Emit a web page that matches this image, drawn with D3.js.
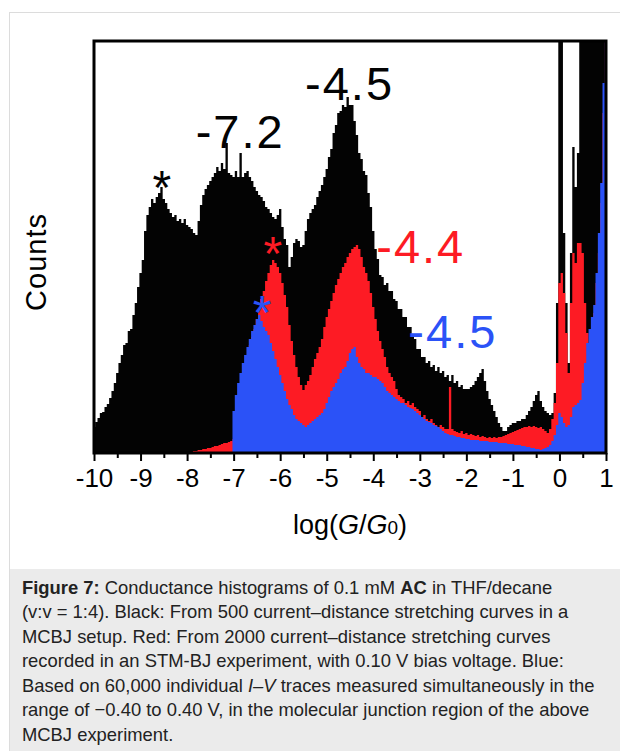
<!DOCTYPE html>
<html><head><meta charset="utf-8">
<script src="https://cdn.jsdelivr.net/npm/d3@7"></script>
<style>
html,body{margin:0;padding:0;background:#fff;}
svg{display:block;font-family:"Liberation Sans",Arial,sans-serif;}
</style></head>
<body>
<svg id="c" width="620" height="751"></svg>
<script>
// bins of log(G/G0), starting at -10, step 0.05 (221 bins up to 1.0)
const binStart = -10, binStep = 0.05;

// Black: MCBJ, 500 curves
const blackCounts = [
  26,31,35,40,41,46,49,55,62,70,80,90,98,108,110,122,124,138,150,166,
  180,193,222,238,246,254,250,256,260,266,254,250,244,240,236,238,232,234,230,234,
  228,226,224,220,218,232,248,258,264,268,272,276,280,286,282,290,284,310,280,278,
  276,282,276,300,276,280,282,276,272,266,262,258,256,252,246,244,240,236,234,238,
  244,226,214,208,186,196,210,214,212,206,208,222,234,240,244,248,256,262,268,276,
  284,296,304,320,328,340,342,348,346,356,348,348,332,318,300,294,282,278,260,246,
  222,204,194,178,176,168,170,162,162,154,152,144,144,136,136,126,126,116,114,104,
  104,96,96,90,92,86,88,82,86,80,82,76,78,72,78,70,72,66,68,64,
  64,64,66,68,72,76,80,84,72,62,54,48,42,36,30,26,22,22,26,28,
  30,30,32,32,34,34,38,42,46,52,58,62,52,46,42,40,38,40,60,150,
  412,412,220,150,90,200,306,266,300,412,412,412,412,412,412,412,412,412,412,412,
  412
];

// Red: STM-BJ, 2000 curves
const redCounts = [
  0,0,0,0,0,0,0,0,0,0,0,0,0,0,0,0,0,0,0,0,
  0,0,0,0,0,0,0,0,0,0,0,0,0,0,0,0,0,0,0,0,
  0,1,1,2,2,3,3,4,4,5,5,6,7,7,8,9,10,10,11,12,
  14,30,48,62,76,88,98,108,116,124,134,144,154,162,172,180,188,193,190,186,
  180,170,158,146,128,112,98,86,76,68,63,68,72,78,86,94,100,106,114,126,
  136,144,152,160,168,174,180,186,190,196,200,204,206,208,204,196,186,180,172,160,
  146,134,122,112,104,96,86,80,76,72,64,58,56,54,50,52,48,50,46,44,
  42,36,38,34,32,34,30,28,26,28,26,24,24,66,24,22,21,20,22,19,
  20,18,19,18,17,18,16,17,16,15,16,15,16,15,16,16,17,18,19,20,
  21,22,23,24,25,26,26,27,26,27,26,25,26,24,22,20,24,34,50,90,
  170,180,160,120,80,150,200,190,210,210,200,150,120,110,120,140,170,200,250,340,
  412
];

// Blue: 60,000 I-V traces
const blueCounts = [
  0,0,0,0,0,0,0,0,0,0,0,0,0,0,0,0,0,0,0,0,
  0,0,0,0,0,0,0,0,0,0,0,0,0,0,0,0,0,0,0,0,
  0,0,0,0,0,0,0,0,0,0,0,0,0,0,0,0,0,0,0,0,
  42,58,70,80,90,98,106,114,122,128,134,138,132,126,122,118,110,102,94,86,
  78,70,62,54,48,44,38,34,32,30,28,26,28,30,32,34,36,38,40,44,
  50,56,62,66,70,74,80,84,86,92,100,104,106,96,90,86,84,80,80,78,
  76,76,74,72,70,66,62,60,58,56,54,52,50,50,48,46,45,44,42,40,
  38,36,34,32,31,30,28,27,26,24,22,20,19,18,18,17,16,16,15,15,
  14,14,13,13,13,13,12,12,12,12,11,11,11,11,10,10,10,10,9,9,
  9,8,8,8,7,7,6,6,5,5,4,4,3,4,5,6,8,12,18,28,
  40,36,30,26,28,36,46,48,50,53,70,90,110,124,136,148,180,220,270,370,
  412
];

const majorTicks = [-10,-9,-8,-7,-6,-5,-4,-3,-2,-1,0,1];
const tickLabels = ["-10","-9","-8","-7","-6","-5","-4","-3","-2","-1","0","1"];
const minorTicks = [-9.5,-8.5,-7.5,-6.5,-5.5,-4.5,-3.5,-2.5,-1.5,-0.5,0.5];

const peakTexts = ["-7.2","-4.5","-4.4","-4.5"];
const peakX = [-6.86,-4.51,-2.98,-2.29];
const peakY = [305,353,190,105];
const peakSeries = ["black","black","red","blue"];

const starX = [-8.54,-6.16,-6.39];
const starY = [276,210,151];
const starSeries = ["black","red","blue"];

const captionLines = [
  [["Figure 7:","b"],[" Conductance histograms of 0.1 mM ",""],["AC","b"],[" in THF/decane",""]],
  [["(v:v = 1:4). Black: From 500 current\u2013distance stretching curves in a",""]],
  [["MCBJ setup. Red: From 2000 current\u2013distance stretching curves",""]],
  [["recorded in an STM-BJ experiment, with 0.10 V bias voltage. Blue:",""]],
  [["Based on 60,000 individual ",""],["I\u2013V","i"],[" traces measured simultaneously in the",""]],
  [["range of \u22120.40 to 0.40 V, in the molecular junction region of the above",""]],
  [["MCBJ experiment.",""]]
];

const colors = {black:"#030303", red:"#fd1b24", blue:"#2b52f7"};

const svg = d3.select("#c");
const L = 94, R = 606, T = 41, B = 453;
const x = d3.scaleLinear().domain([-10, 1]).range([L, R]);
const y = d3.scaleLinear().domain([0, 412]).range([B, T]);

// outer border and caption box
svg.append("rect").attr("x",9.5).attr("y",12.5).attr("width",700).attr("height",800)
  .attr("fill","none").attr("stroke","#dcdcdc").attr("stroke-width",1);
svg.append("rect").attr("x",10).attr("y",569).attr("width",610).attr("height",182).attr("fill","#ebebeb");

svg.append("defs").append("clipPath").attr("id","pc")
  .append("rect").attr("x",L).attr("y",T).attr("width",R-L).attr("height",B-T);

const g = svg.append("g").attr("clip-path","url(#pc)");
function mk(arr){ return arr.map((v,i)=>({x: binStart + i*binStep, v})); }
const area = d3.area().x(d=>x(d.x)).y0(y(0)).y1(d=>y(d.v)).curve(d3.curveStep);
[["black",blackCounts],["red",redCounts],["blue",blueCounts]].forEach(([k,arr])=>{
  g.append("path").datum(mk(arr)).attr("d",area).attr("fill",colors[k]);
});

// frame
svg.append("rect").attr("x",L).attr("y",T).attr("width",R-L).attr("height",B-T)
  .attr("fill","none").attr("stroke","#000").attr("stroke-width",3);

// axes
const ax = svg.append("g").attr("transform",`translate(0,${B})`)
  .call(d3.axisBottom(x).tickValues(majorTicks).tickSize(8).tickPadding(8)
    .tickFormat((d,i)=>tickLabels[i]));
ax.select(".domain").remove();
ax.selectAll(".tick line").attr("stroke","#000").attr("stroke-width",2);
ax.selectAll(".tick text").attr("font-size",26).attr("fill","#000")
  .attr("font-family",'"Liberation Sans",Arial,sans-serif');
const axm = svg.append("g").attr("transform",`translate(0,${B})`)
  .call(d3.axisBottom(x).tickValues(minorTicks).tickSize(5).tickFormat(""));
axm.select(".domain").remove();
axm.selectAll(".tick line").attr("stroke","#000").attr("stroke-width",2);

// axis titles
const xt = svg.append("text").attr("x",(L+R)/2).attr("y",534).attr("text-anchor","middle")
  .attr("font-size",27).attr("fill","#000");
xt.append("tspan").text("log(");
xt.append("tspan").attr("font-style","italic").text("G");
xt.append("tspan").text("/");
xt.append("tspan").attr("font-style","italic").text("G");
xt.append("tspan").attr("font-size",19).text("0");
xt.append("tspan").text(")");

svg.append("text").attr("transform","translate(36,262) rotate(-90)")
  .attr("text-anchor","middle").attr("dominant-baseline","central")
  .attr("font-size",29).attr("letter-spacing",1).attr("fill","#000").text("Counts");

// peak labels
peakTexts.forEach((t,i)=>{
  svg.append("text").attr("x",x(peakX[i])).attr("y",y(peakY[i]))
    .attr("text-anchor","middle").attr("font-size",47).attr("letter-spacing",2)
    .attr("fill",colors[peakSeries[i]]).text(t);
});
// stars
starX.forEach((sx,i)=>{
  svg.append("text").attr("x",x(sx)).attr("y",y(starY[i])+27)
    .attr("text-anchor","middle").attr("font-size",48)
    .attr("fill",colors[starSeries[i]]).text("*");
});

// caption
captionLines.forEach((line,i)=>{
  const t = svg.append("text").attr("x",22).attr("y",593.5+i*24.5)
    .attr("font-size",18.4).attr("fill","#222");
  line.forEach(([s,st])=>{
    const sp = t.append("tspan").text(s);
    if(st==="b") sp.attr("font-weight","bold");
    if(st==="i") sp.attr("font-style","italic");
  });
});
</script>
</body></html>
